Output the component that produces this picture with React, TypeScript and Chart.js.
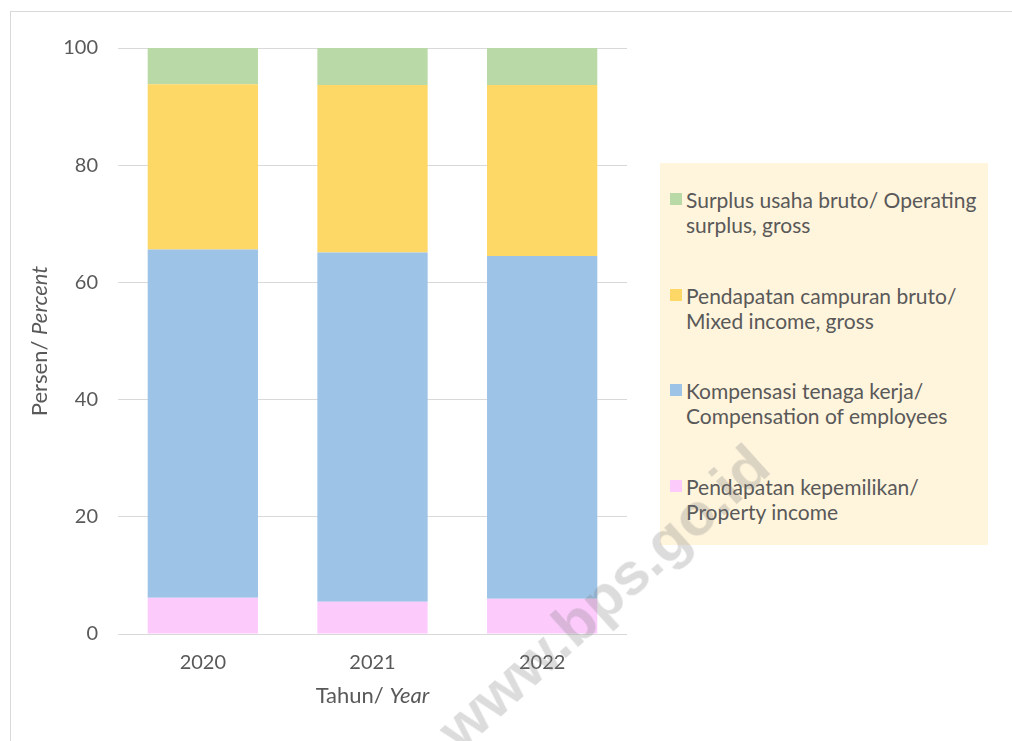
import React, { useEffect, useRef } from "react";
import { Chart, registerables } from "chart.js";

Chart.register(...registerables);

const categories = ["2020", "2021", "2022"];
const seriesNames = [
  ["Pendapatan kepemilikan/", "Property income"],
  ["Kompensasi tenaga kerja/", "Compensation of employees"],
  ["Pendapatan campuran bruto/", "Mixed income, gross"],
  ["Surplus usaha bruto/ Operating", "surplus, gross"],
];
const propertyIncome = [6.2, 5.5, 6.0];
const compensation = [59.4, 59.6, 58.5];
const mixedIncome = [28.2, 28.6, 29.2];
const operatingSurplus = [6.2, 6.3, 6.3];
const seriesColors = ["#FCCBFC", "#9DC3E6", "#FDD866", "#B9D9A6"];
const yTicks = [0, 20, 40, 60, 80, 100];

const TEXT = "#595959";
const FONT = "Lato, 'Noto Sans', sans-serif";
const TITLE_SIZE = 22;

export default function App() {
  const ref = useRef<HTMLCanvasElement | null>(null);

  useEffect(() => {
    if (!ref.current) return;
    const values = [propertyIncome, compensation, mixedIncome, operatingSurplus];
    const titlePlugin = {
      id: "axisTitles",
      afterDraw(chart: any) {
        const ctx = chart.ctx;
        const ca = chart.chartArea;
        ctx.save();
        ctx.fillStyle = TEXT;
        ctx.textBaseline = "middle";
        ctx.textAlign = "left";
        const reg = `${TITLE_SIZE}px ${FONT}`;
        const ita = `italic ${TITLE_SIZE}px ${FONT}`;
        // x title
        const a = "Tahun/ ";
        const b = "Year";
        ctx.font = reg;
        const wa = ctx.measureText(a).width;
        ctx.font = ita;
        const wb = ctx.measureText(b).width;
        const cx = (ca.left + ca.right) / 2;
        const x0 = cx - (wa + wb) / 2;
        const yT = 696;
        ctx.font = reg;
        ctx.fillText(a, x0, yT);
        ctx.font = ita;
        ctx.fillText(b, x0 + wa, yT);
        // y title
        const c = "Persen/ ";
        const d = "Percent";
        ctx.font = reg;
        const wc = ctx.measureText(c).width;
        ctx.font = ita;
        const wd = ctx.measureText(d).width;
        const cy = (ca.top + ca.bottom) / 2;
        ctx.translate(40, cy);
        ctx.rotate(-Math.PI / 2);
        const s = -(wc + wd) / 2;
        ctx.font = reg;
        ctx.fillText(c, s, 0);
        ctx.font = ita;
        ctx.fillText(d, s + wc, 0);
        ctx.restore();
      },
    };
    const chart = new Chart(ref.current, {
      type: "bar",
      data: {
        labels: categories,
        datasets: values.map((v, i) => ({
          label: seriesNames[i].join(" "),
          data: v,
          backgroundColor: seriesColors[i],
          borderWidth: 0,
          categoryPercentage: 1,
          barPercentage: 0.65,
        })),
      },
      options: {
        responsive: false,
        animation: false,
        layout: { padding: { left: 0, top: 48, right: 385, bottom: 0 } },
        plugins: {
          legend: { display: false },
          tooltip: { enabled: false },
        },
        scales: {
          x: {
            stacked: true,
            grid: { display: false },
            border: { display: false },
            ticks: { color: TEXT, font: { family: FONT, size: 20 }, padding: 9 },
            afterFit: (s: any) => {
              s.height = 107;
            },
          },
          y: {
            stacked: true,
            min: 0,
            max: 100,
            afterBuildTicks: (s: any) => {
              s.ticks = yTicks.map((v) => ({ value: v }));
            },
            grid: { color: "#D9D9D9", lineWidth: 1, drawTicks: false },
            border: { display: false },
            ticks: { color: TEXT, font: { family: FONT, size: 20 }, padding: 20 },
            afterFit: (s: any) => {
              s.width = 118;
            },
          },
        },
      },
      plugins: [titlePlugin],
    });
    return () => chart.destroy();
  }, []);

  const legendOrder = [3, 2, 1, 0];

  return (
    <div
      style={{
        position: "fixed",
        left: 0,
        top: 0,
        width: 1012,
        height: 741,
        overflow: "hidden",
        background: "#fff",
      }}
    >
      <div
        style={{
          position: "absolute",
          left: 10,
          top: 11,
          width: 1200,
          height: 900,
          border: "1px solid #D9D9D9",
        }}
      />
      <canvas
        ref={ref}
        width={1012}
        height={741}
        style={{ position: "absolute", left: 0, top: 0, width: 1012, height: 741 }}
      />
      <div
        style={{
          position: "absolute",
          left: 660,
          top: 163,
          width: 328,
          height: 382,
          background: "#FFF4DC",
          boxSizing: "border-box",
          paddingTop: 24,
          fontFamily: FONT,
          fontSize: 21,
          lineHeight: "25px",
          color: TEXT,
        }}
      >
        {legendOrder.map((i, k) => (
          <div
            key={i}
            style={{
              position: "relative",
              paddingLeft: 26,
              marginBottom: k < 3 ? 45.5 : 0,
              height: 50,
              whiteSpace: "nowrap",
            }}
          >
            <span
              style={{
                position: "absolute",
                left: 10,
                top: 6,
                width: 12,
                height: 12,
                background: seriesColors[i],
              }}
            />
            <div>{seriesNames[i][0]}</div>
            <div>{seriesNames[i][1]}</div>
          </div>
        ))}
      </div>
      <div
        style={{
          position: "absolute",
          left: 603,
          top: 597,
          transform: "translate(-50%, -50%) rotate(-42deg)",
          fontFamily: "'Liberation Sans', Arial, sans-serif",
          fontWeight: 700,
          fontSize: 60,
          color: "rgba(120,120,120,0.26)",
          whiteSpace: "nowrap",
          pointerEvents: "none",
        }}
      >
        www.bps.go.id
      </div>
    </div>
  );
}
